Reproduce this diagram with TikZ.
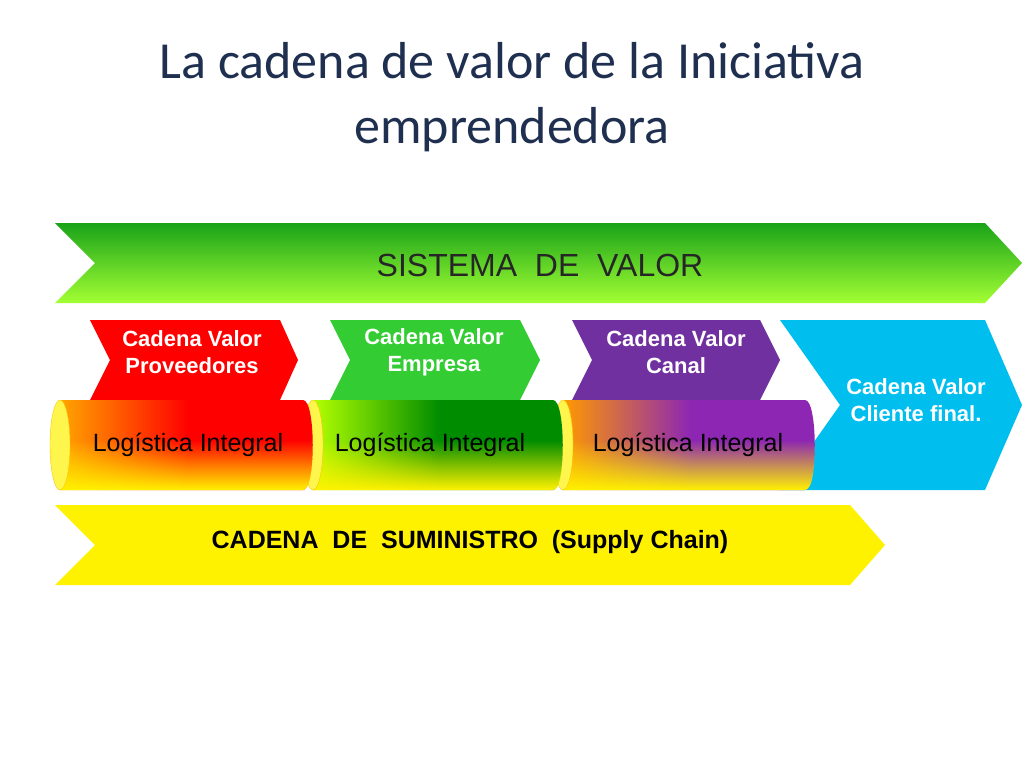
\documentclass[tikz,border=0pt]{standalone}
\usepackage{fontspec}
\setmainfont{Liberation Sans}
\newfontfamily\titlefont{Carlito}
\usetikzlibrary{fadings}
\definecolor{titleblue}{HTML}{1F2F4F}
\definecolor{cpurple}{HTML}{7030A0}
\definecolor{ccyan}{HTML}{00BFEF}
\definecolor{cgreen}{HTML}{33CC33}
\tikzset{x=1pt,y=-1pt,
 cv/.style={text=white,font=\bfseries\fontsize{22}{27}\selectfont,align=center},
 li/.style={text=black,font=\fontsize{25}{29}\selectfont},
 endcap/.style={fill=yellow!70!white,draw=yellow!60!orange,line width=0.4pt}}
\begin{document}
\begin{tikzpicture}
\useasboundingbox (0,0) rectangle (1024,768);
\fill[white] (0,0) rectangle (1024,768);
\node[text=titleblue,font=\titlefont\fontsize{52}{65}\selectfont,align=center] (title) at (512,97) {La cadena de valor de la Iniciativa\\emprendedora};
% sistema de valor
\shade[top color=green!60!black!90,bottom color=green!45!yellow!80!white] (55,223) -- (985,223) -- (1022,263) -- (985,303) -- (55,303) -- (95,263) -- cycle;
\node[text=black!85,font=\fontsize{32}{36}\selectfont] (sv) at (540,265) {SISTEMA\ \ DE\ \ VALOR};
% small chevrons
\fill[red] (90,320) -- (280,320) -- (298,360) -- (280,400) -- (90,400) -- (110,360) -- cycle;
\fill[cgreen] (330,320) -- (520,320) -- (540,360) -- (520,400) -- (330,400) -- (350,360) -- cycle;
\fill[cpurple] (572,320) -- (760,320) -- (780,360) -- (760,400) -- (572,400) -- (592,360) -- cycle;
\fill[ccyan] (780,320) -- (985,320) -- (1022,405) -- (985,490) -- (780,490) -- (840,405) -- cycle;
\node[cv] (c1) at (192,352) {Cadena Valor\\Proveedores};
\node[cv] (c2) at (434,352) {Cadena Valor\\Empresa};
\node[cv] (c3) at (676,352) {Cadena Valor\\Canal};
\node[cv] (c4) at (916,400) {Cadena Valor\\Cliente final.};
% cylinders
\foreach \xl/\xr/\ca/\cb in {563/805/orange!80!yellow/cpurple!80!magenta, 313/553/yellow!70!green/green!55!black, 60/303/orange!70!yellow/red}{
 \shade[left color=\ca,right color=\cb,middle color=\cb] (\xl,400) -- (\xr,400) .. controls (\xr+13,400) and (\xr+13,490) .. (\xr,490) -- (\xl,490) -- cycle;
 \fill[yellow,path fading=north] (\xl,440) -- (\xr+10,440) .. controls (\xr+10,465) and (\xr+8,490) .. (\xr,490) -- (\xl,490) -- cycle;
 \fill[endcap] (\xl,445) ellipse[x radius=10,y radius=45];
}
\node[li] (l1) at (188,445) {Logística Integral};
\node[li] (l2) at (430,445) {Logística Integral};
\node[li] (l3) at (688,445) {Logística Integral};
% supply chain
\fill[yellow] (55,505) -- (850,505) -- (885,545) -- (850,585) -- (55,585) -- (95,545) -- cycle;
\node[text=black,font=\bfseries\fontsize{25}{29}\selectfont] (sc) at (470,542) {CADENA\ \ DE\ \ SUMINISTRO\ \ (Supply Chain)};
\end{tikzpicture}
\end{document}
